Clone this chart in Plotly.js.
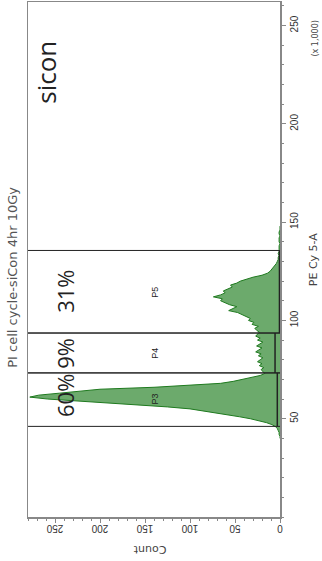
<!DOCTYPE html>
<html>
<head>
<meta charset="utf-8">
<script src="https://cdn.plot.ly/plotly-3.0.1.min.js"></script>
<style>html,body{margin:0;padding:0;background:#fff;}#chart{width:322px;height:561px;}</style>
</head>
<body>
<div id="chart"></div>
<script>
// PE Cy 5-A bin centres (x 1,000)
const peBins = [40,41,42,43,44,45,46,47,48,49,50,51,52,53,54,55,56,57,58,59,60,61,62,63,64,65,66,67,68,69,70,71,72,73,74,75,76,77,78,79,80,81,82,83,84,85,86,87,88,89,90,91,92,93,94,95,96,97,98,99,100,101,102,103,104,105,106,107,108,109,110,111,112,113,114,115,116,117,118,119,120,121,122,123,124,125,126,127,128,129,130,131,132,133,134,135,136,137,138,139,140,141,142,143,144,145,146,147,148];
// Count per bin
const counts = [0,0,1,1,2,3,5,9,15,23,33,45,58,72,86,100,125,160,200,230,258,278,268,245,222,200,140,95,66,52,42,32,22,17,19,21,18,23,20,25,22,19,24,21,27,24,20,26,23,19,25,22,27,25,23,26,28,24,31,29,35,33,38,42,47,57,52,48,56,62,66,64,74,66,61,63,58,53,55,48,44,38,30,20,14,11,9,7,5,4,3,2,2,1,2,1,1,1,1,0,1,1,1,0,1,1,0,0,0];

// Gates: name, low, high (PE x1000), bar count level, percent
const gateNames = ["P3","P4","P5"];
const gateLow = [46.1, 73.3, 93.6];
const gateHigh = [73.3, 93.6, 135.6];
const gateBar = [3, 5.5, 0.6];
const gatePct = ["60%","9%","31%"];

const countTicks = [0,50,100,150,200,250];
const peTicks = [50,100,150,200,250];

const shapes = [];
const annotations = [];
for (let i = 0; i < gateNames.length; i++) {
  [gateLow[i], gateHigh[i]].forEach(v => shapes.push({
    type:'line', xref:'paper', yref:'y', x0:0, x1:1, y0:v, y1:v,
    line:{color:'#222', width:1}
  }));
  shapes.push({type:'line', xref:'x', yref:'y', x0:gateBar[i], x1:gateBar[i],
    y0:gateLow[i], y1:gateHigh[i], line:{color:'#222', width:1.5}});
  const mid = (gateLow[i] + gateHigh[i]) / 2;
  annotations.push({xref:'x', yref:'y', x:139, y: mid + (i===0?0.5:0), text:gateNames[i], showarrow:false,
    textangle:-90, font:{family:'Liberation Sans, Arial', size:9, color:'#222'}});
  annotations.push({xref:'x', yref:'y', x:239, y: [62,83.5,115][i], text:gatePct[i], showarrow:false,
    textangle:-90, font:{family:'Open Sans', size:22, color:'#222'}});
}
annotations.push({xref:'x', yref:'y', x:260, y:226, text:'sicon', showarrow:false, textangle:-90,
  font:{family:'Open Sans', size:26, color:'#222'}});
annotations.push({xref:'paper', yref:'paper', x:-0.025, y:0.465, xanchor:'right', yanchor:'middle',
  text:'PI cell cycle-siCon 4hr 10Gy', showarrow:false, textangle:-90,
  font:{family:'DejaVu Sans', size:13, color:'#555'}});
annotations.push({xref:'paper', yref:'paper', x:0.485, y:-0.048, xanchor:'center', yanchor:'top',
  text:'Count', showarrow:false, textangle:180,
  font:{family:'DejaVu Sans', size:11, color:'#444'}});
annotations.push({xref:'paper', yref:'paper', x:1.1, y:0.5, xanchor:'left', yanchor:'middle',
  text:'PE Cy 5-A', showarrow:false, textangle:-90,
  font:{family:'DejaVu Sans', size:11, color:'#444'}});
annotations.push({xref:'paper', yref:'paper', x:1.115, y:0.93, xanchor:'left', yanchor:'middle',
  text:'(x 1,000)', showarrow:false, textangle:-90,
  font:{family:'DejaVu Sans', size:8, color:'#444'}});

const trace = {
  type:'scatter', mode:'lines', x:counts, y:peBins,
  line:{color:'#1f7a1f', width:1, shape:'linear'}, fill:'tozerox', fillcolor:'#6caa6c',
  hoverinfo:'skip'
};

const layout = {
  width:322, height:561,
  margin:{l:28, r:42, t:2, b:44},
  paper_bgcolor:'#fff', plot_bgcolor:'#fff',
  showlegend:false,
  xaxis:{range:[280,0], tickvals:countTicks, ticktext:countTicks.map(String), tickangle:180,
    ticks:'outside', ticklen:4, tickcolor:'#888', showgrid:false, zeroline:false,
    showline:true, linecolor:'#888', linewidth:1.5, mirror:true,
    tickfont:{family:'Liberation Sans Narrow, Liberation Sans, Arial', size:10, color:'#333'},
    minor:{dtick:10, tick0:0, ticks:'outside', ticklen:2, tickcolor:'#888'}},
  yaxis:{range:[0,262], side:'right', tickvals:peTicks, ticktext:peTicks.map(String), tickangle:-90,
    ticks:'outside', ticklen:4, tickcolor:'#888', showgrid:false, zeroline:false,
    showline:true, linecolor:'#888', linewidth:1.5, mirror:true,
    tickfont:{family:'Liberation Sans Narrow, Liberation Sans, Arial', size:10, color:'#333'},
    minor:{dtick:10, tick0:0, ticks:'outside', ticklen:2, tickcolor:'#888'}},
  shapes:shapes, annotations:annotations
};

Plotly.newPlot('chart', [trace], layout, {staticPlot:true, displayModeBar:false});
</script>
</body>
</html>
